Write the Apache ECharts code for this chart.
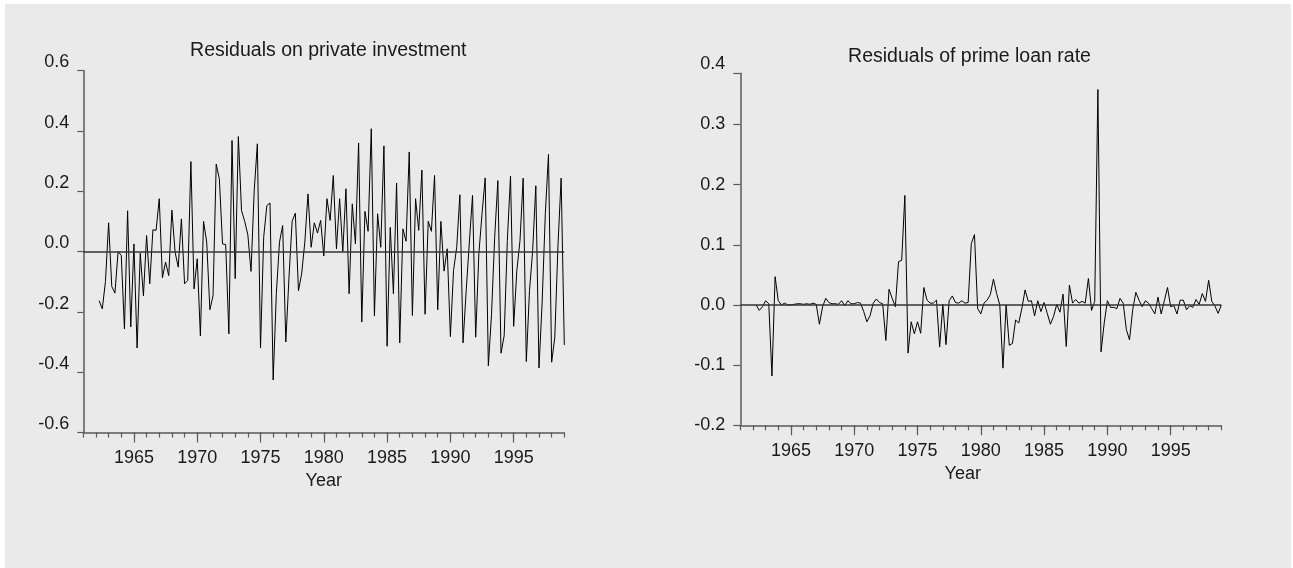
<!DOCTYPE html>
<html>
<head>
<meta charset="utf-8">
<script src="https://cdn.jsdelivr.net/npm/echarts@6/dist/echarts.min.js"></script>
<style>
  html, body { margin: 0; padding: 0; background: #ffffff; }
  #chart { position: absolute; left: 5px; top: 4px; width: 1286px; height: 564px; background: #eaeaea; }
</style>
</head>
<body>
<div id="chart"></div>
<script>
// Quarterly residuals, first observation 1962Q2
const startYear = 1962;
const startQuarter = 2;

const investmentResiduals = [
  -0.163, -0.190, -0.100, 0.095, -0.116, -0.138, 0.000, -0.013, -0.257, 0.135,
  -0.250, 0.025, -0.320, -0.006, -0.147, 0.053, -0.107, 0.072, 0.070, 0.175,
  -0.087, -0.035, -0.080, 0.137, -0.002, -0.052, 0.108, -0.107, -0.096, 0.298,
  -0.124, -0.024, -0.280, 0.100, 0.031, -0.193, -0.146, 0.290, 0.240, 0.025,
  0.023, -0.273, 0.368, -0.090, 0.381, 0.136, 0.100, 0.055, -0.066, 0.200,
  0.357, -0.320, 0.047, 0.152, 0.161, -0.426, -0.140, 0.031, 0.086, -0.300,
  -0.085, 0.100, 0.127, -0.130, -0.074, 0.031, 0.191, 0.014, 0.095, 0.061,
  0.103, -0.015, 0.175, 0.103, 0.252, 0.009, 0.175, 0.000, 0.208, -0.140,
  0.158, 0.025, 0.360, -0.234, 0.133, 0.067, 0.407, -0.214, 0.125, 0.014,
  0.350, -0.314, 0.080, -0.140, 0.227, -0.303, 0.075, 0.034, 0.330, -0.212,
  0.175, 0.070, 0.270, -0.208, 0.100, 0.067, 0.252, -0.193, 0.100, -0.065,
  0.009, -0.282, -0.063, 0.014, 0.188, -0.303, -0.130, 0.031, 0.186, -0.284,
  -0.008, 0.125, 0.244, -0.379, -0.208, 0.047, 0.235, -0.337, -0.279, 0.036,
  0.250, -0.248, -0.063, 0.036, 0.243, -0.365, -0.130, 0.003, 0.218, -0.386,
  -0.168, 0.125, 0.322, -0.367, -0.284, 0.020, 0.243, -0.310
];

const primeRateResiduals = [
  0.000, -0.009, -0.003, 0.007, 0.002, -0.118, 0.047, 0.007, 0.000, 0.003,
  0.000, 0.000, 0.001, 0.002, 0.002, 0.001, 0.002, 0.001, 0.003, 0.001,
  -0.032, -0.003, 0.011, 0.004, 0.002, 0.002, 0.001, 0.007, -0.001, 0.007,
  0.002, 0.002, 0.004, 0.003, -0.011, -0.028, -0.018, 0.003, 0.010, 0.004,
  0.002, -0.059, 0.026, 0.011, -0.003, 0.072, 0.074, 0.182, -0.080, -0.028,
  -0.048, -0.028, -0.047, 0.029, 0.008, 0.003, 0.003, 0.008, -0.070, 0.001,
  -0.066, 0.007, 0.015, 0.004, 0.003, 0.007, 0.003, 0.004, 0.102, 0.117,
  -0.006, -0.015, 0.003, 0.008, 0.017, 0.043, 0.019, 0.000, -0.105, 0.000,
  -0.067, -0.064, -0.025, -0.030, -0.005, 0.025, 0.006, 0.007, -0.018, 0.007,
  -0.011, 0.004, -0.014, -0.032, -0.019, 0.001, -0.012, 0.018, -0.069, 0.033,
  0.003, 0.009, 0.003, 0.006, 0.003, 0.044, -0.009, 0.006, 0.358, -0.078,
  -0.030, 0.007, -0.004, -0.004, -0.006, 0.011, 0.003, -0.041, -0.058, -0.008,
  0.021, 0.008, -0.003, 0.007, 0.003, -0.006, -0.015, 0.013, -0.015, 0.007,
  0.029, -0.003, -0.001, -0.015, 0.008, 0.008, -0.008, -0.001, -0.004, 0.009,
  0.001, 0.019, 0.006, 0.041, 0.006, -0.002, -0.014, 0.000
];

const yearAxisMin = 1961;
const yearAxisMax = 1999;
const yearLabels = [1965, 1970, 1975, 1980, 1985, 1990, 1995];
const investmentTicks = [-0.6, -0.4, -0.2, 0.0, 0.2, 0.4, 0.6];
const primeRateTicks = [-0.2, -0.1, 0.0, 0.1, 0.2, 0.3, 0.4];
const primeRateAxisMax = 0.385;

const titles = ['Residuals on private investment', 'Residuals of prime loan rate'];
const xAxisTitle = 'Year';

// one tick per year along the time axis
const yearTicks = [];
for (let y = yearAxisMin; y <= yearAxisMax; y++) yearTicks.push(y);

// each observation sits at its quarter's start on the time axis
function toTimePoints(values) {
  return values.map((v, i) => {
    const q = startQuarter - 1 + i;
    const year = startYear + Math.floor(q / 4);
    const quarter = q % 4;
    return [year + quarter / 4, v];
  });
}

const FONT = '"Liberation Sans", Arial, Helvetica, sans-serif';
const INK = '#1a1a1a';
const AXIS = '#5a5a5a';

function timeAxis(gridIndex, nameGap, namePad) {
  return {
    type: 'value', gridIndex, position: 'bottom', min: yearAxisMin, max: yearAxisMax,
    name: xAxisTitle, nameLocation: 'middle', nameGap,
    nameTextStyle: { fontFamily: FONT, fontSize: 18, color: INK, padding: namePad },
    axisLine: { show: true, onZero: false, lineStyle: { color: AXIS, width: 1.5 } },
    axisTick: { show: true, customValues: yearTicks, length: 5, lineStyle: { color: AXIS, width: 1.2 } },
    axisLabel: { customValues: yearLabels, formatter: v => String(v), margin: 17,
                 fontFamily: FONT, fontSize: 18, color: INK },
    splitLine: { show: false }
  };
}
// longer marks every five years
function majorTickAxis(gridIndex) {
  return {
    type: 'value', gridIndex, position: 'bottom', min: yearAxisMin, max: yearAxisMax,
    axisLine: { show: false, onZero: false },
    axisTick: { show: true, customValues: yearLabels, length: 10, lineStyle: { color: AXIS, width: 1.2 } },
    axisLabel: { show: false },
    splitLine: { show: false }
  };
}

function residualSeries(xAxisIndex, yAxisIndex, values, name) {
  return {
    type: 'line', name, xAxisIndex, yAxisIndex,
    data: toTimePoints(values),
    showSymbol: false, symbol: 'none',
    lineStyle: { color: '#000000', width: 1 },
    animation: false,
    markLine: {
      silent: true, symbol: 'none', animation: false,
      label: { show: false },
      lineStyle: { color: '#333333', width: 1.5, type: 'solid' },
      data: [{ yAxis: 0 }]
    }
  };
}

const chart = echarts.init(document.getElementById('chart'), null, { renderer: 'canvas' });

chart.setOption({
  animation: false,
  backgroundColor: '#eaeaea',
  grid: [
    { left: 78.3, top: 66.5, width: 481, height: 362 },
    { left: 735.3, top: 69.3, width: 481, height: 352 }
  ],
  xAxis: [
    timeAxis(0, 38, [0, 0, 0, 0]), majorTickAxis(0),
    timeAxis(1, 38, [0, 36, 0, 0]), majorTickAxis(1)
  ],
  yAxis: [
    {
      type: 'value', gridIndex: 0, min: investmentTicks[0], max: investmentTicks[investmentTicks.length - 1],
      axisLine: { show: true, lineStyle: { color: AXIS, width: 1.5 } },
      axisTick: { show: true, customValues: investmentTicks, length: 6, lineStyle: { color: AXIS, width: 1.2 } },
      axisLabel: { customValues: investmentTicks, formatter: v => v.toFixed(1), margin: 14,
                   verticalAlign: 'bottom', lineHeight: 16,
                   fontFamily: FONT, fontSize: 18, color: INK },
      splitLine: { show: false }
    },
    {
      type: 'value', gridIndex: 1, min: primeRateTicks[0], max: primeRateAxisMax,
      axisLine: { show: true, lineStyle: { color: AXIS, width: 1.5 } },
      axisTick: { show: true, customValues: primeRateTicks.slice(0, -1).concat([primeRateAxisMax]),
                  length: 7, lineStyle: { color: AXIS, width: 1.2 } },
      axisLabel: { customValues: primeRateTicks.slice(0, -1), formatter: v => v.toFixed(1), margin: 15,
                   fontFamily: FONT, fontSize: 18, color: INK },
      splitLine: { show: false }
    }
  ],
  series: [
    residualSeries(0, 0, investmentResiduals, titles[0]),
    residualSeries(2, 1, primeRateResiduals, titles[1])
  ]
});

// panel titles, plus the top label of the prime-rate axis placed at its own value just past the axis end
const topTick = primeRateTicks[primeRateTicks.length - 1];
const topPos = chart.convertToPixel({ gridIndex: 1 }, [yearAxisMin, topTick]);
const labelStyle = { font: '18px ' + FONT, fill: INK, verticalAlign: 'middle' };
const titleStyle = { font: '19.5px ' + FONT, fill: INK, verticalAlign: 'middle', align: 'center' };
chart.setOption({
  graphic: [
    { type: 'text', x: 323.3, y: 46.7, style: Object.assign({ text: titles[0] }, titleStyle) },
    { type: 'text', x: 964.5, y: 53, style: Object.assign({ text: titles[1] }, titleStyle) },
    { type: 'text', x: topPos[0] - 15, y: topPos[1],
      style: Object.assign({ text: topTick.toFixed(1), align: 'right' }, labelStyle) }
  ]
});
</script>
</body>
</html>
